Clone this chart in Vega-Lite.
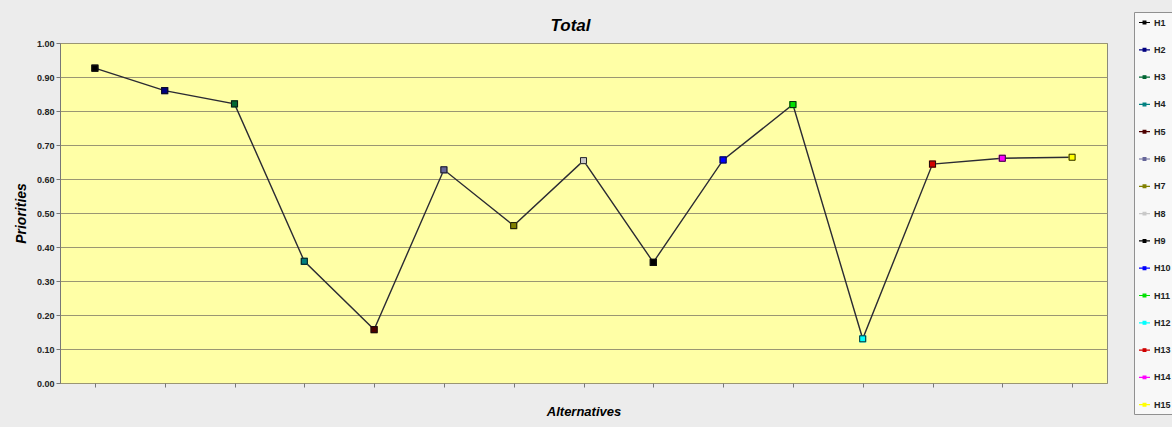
{
  "$schema": "https://vega.github.io/schema/vega-lite/v6.json",
  "width": 1047,
  "height": 340,
  "autosize": {"type": "none"},
  "padding": {"left": 60, "top": 43, "right": 65, "bottom": 44},
  "background": "#ececec",
  "title": {"text": "Total", "frame": "group", "font": "Liberation Sans", "fontSize": 17, "fontWeight": "bold", "fontStyle": "italic", "color": "#000000", "anchor": "middle", "dx": -13, "offset": -23},
  "config": {
    "font": "Liberation Sans",
    "view": {"fill": "#ffffa6", "stroke": "#8a8a7a", "strokeWidth": 1}
  },
  "data": {
    "values": [
      {"alt": 1, "series": "H1", "priority": 0.926},
      {"alt": 2, "series": "H2", "priority": 0.860},
      {"alt": 3, "series": "H3", "priority": 0.821},
      {"alt": 4, "series": "H4", "priority": 0.358},
      {"alt": 5, "series": "H5", "priority": 0.157},
      {"alt": 6, "series": "H6", "priority": 0.627},
      {"alt": 7, "series": "H7", "priority": 0.463},
      {"alt": 8, "series": "H8", "priority": 0.654},
      {"alt": 9, "series": "H9", "priority": 0.355},
      {"alt": 10, "series": "H10", "priority": 0.656},
      {"alt": 11, "series": "H11", "priority": 0.819},
      {"alt": 12, "series": "H12", "priority": 0.130},
      {"alt": 13, "series": "H13", "priority": 0.644},
      {"alt": 14, "series": "H14", "priority": 0.661},
      {"alt": 15, "series": "H15", "priority": 0.664}
    ]
  },
  "encoding": {
    "x": {
      "field": "alt", "type": "ordinal",
      "scale": {"type": "point", "padding": 0.5},
      "axis": {"title": "Alternatives", "labels": false, "domain": false, "ticks": true, "tickSize": 4, "tickColor": "#777777", "titleFont": "Liberation Sans", "titleFontSize": 13, "titleFontWeight": "bold", "titleFontStyle": "italic", "titleColor": "#000000", "titlePadding": 18}
    },
    "y": {
      "field": "priority", "type": "quantitative",
      "scale": {"domain": [0, 1], "nice": false, "zero": true},
      "axis": {"title": "Priorities", "values": [0, 0.1, 0.2, 0.3, 0.4, 0.5, 0.6, 0.7, 0.8, 0.9, 1.0], "format": ".2f", "grid": true, "gridColor": "#9a9673", "gridWidth": 1.2, "domain": true, "domainColor": "#777777", "tickSize": 4, "tickColor": "#777777", "labelFont": "Liberation Sans", "labelFontSize": 9, "labelFontWeight": "bold", "labelColor": "#222222", "labelPadding": 2, "titleFont": "Liberation Sans", "titleFontSize": 14, "titleFontWeight": "bold", "titleFontStyle": "italic", "titleColor": "#000000", "titlePadding": 8}
    }
  },
  "layer": [
    {
      "mark": {"type": "line", "color": "#2b2b33", "strokeWidth": 1.4}
    },
    {
      "mark": {"type": "point", "shape": "square", "filled": true, "size": 36, "strokeWidth": 1.2, "opacity": 1},
      "encoding": {
        "color": {
          "field": "series", "type": "nominal",
          "sort": ["H1","H2","H3","H4","H5","H6","H7","H8","H9","H10","H11","H12","H13","H14","H15"],
          "scale": {
            "domain": ["H1","H2","H3","H4","H5","H6","H7","H8","H9","H10","H11","H12","H13","H14","H15"],
            "range": ["#000000","#000080","#006633","#008080","#4d0000","#666699","#808000","#c8c8c8","#000000","#0000ff","#00e000","#00ffff","#d00000","#ff00ff","#ffff00"]
          },
          "legend": {
            "title": null,
            "orient": "none",
            "legendX": 1074,
            "legendY": -31,
            "direction": "vertical",
            "padding": 4,
            "fillColor": "#f8f8f8",
            "strokeColor": "#909090",
            "symbolType": "M-1,0L1,0M-0.25,-0.25L0.25,-0.25L0.25,0.25L-0.25,0.25Z",
            "symbolSize": 121,
            "symbolStrokeWidth": 1.2,
            "symbolOpacity": 1,
            "labelFont": "Liberation Sans",
            "labelFontSize": 9,
            "labelFontWeight": "bold",
            "labelColor": "#222222",
            "labelOffset": 3,
            "rowPadding": 15.3
          }
        },
        "stroke": {
          "field": "series", "type": "nominal",
          "sort": ["H1","H2","H3","H4","H5","H6","H7","H8","H9","H10","H11","H12","H13","H14","H15"],
          "scale": {
            "domain": ["H1","H2","H3","H4","H5","H6","H7","H8","H9","H10","H11","H12","H13","H14","H15"],
            "range": ["#000000","#000080","#006633","#008080","#4d0000","#666699","#808000","#c8c8c8","#000000","#0000ff","#00e000","#00ffff","#d00000","#ff00ff","#ffff00"]
          }
        }
      }
    },
    {
      "mark": {"type": "point", "shape": "square", "filled": false, "size": 36, "stroke": "#111111", "strokeWidth": 0.9, "opacity": 1}
    }
  ]
}
